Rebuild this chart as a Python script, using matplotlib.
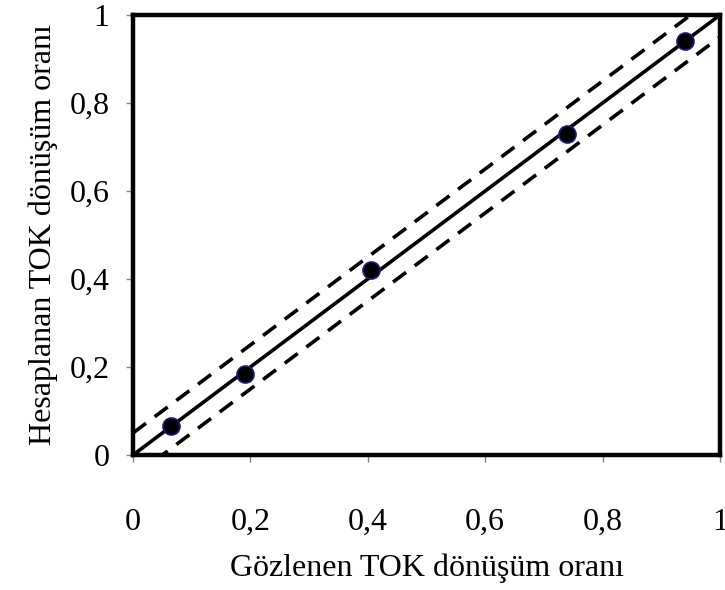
import matplotlib
matplotlib.use("Agg")
import matplotlib.pyplot as plt
import numpy as np

# Observed vs. calculated TOC conversion
observed = [0.065, 0.19, 0.405, 0.74, 0.94]
calculated = [0.065, 0.185, 0.42, 0.73, 0.94]
band = 0.05  # +/- deviation band
ticks = [0, 0.2, 0.4, 0.6, 0.8, 1]
tick_labels = ["0", "0,2", "0,4", "0,6", "0,8", "1"]

plt.rcParams['font.family'] = ['Liberation Serif', 'DejaVu Serif']

fig = plt.figure(figsize=(7.25, 5.9), dpi=100)
ax = fig.add_axes([133 / 725, 1 - 455 / 590, (720 - 133) / 725, (455 - 15) / 590])

line = np.array([0.0, 1.0])
ax.plot(line, line, color='black', lw=2.6, zorder=2)
ax.plot(line, line + band, color='black', lw=2.6, dashes=(4.5, 3), zorder=2)
ax.plot(line, line - band, color='black', lw=2.6, dashes=(4.5, 3), zorder=2)
ax.scatter(observed, calculated, s=150, c='black', edgecolors='#1a1a80',
           linewidths=1.2, zorder=3, clip_on=False)

ax.set_xlim(0, 1)
ax.set_ylim(0, 1)
ax.set_xticks(ticks)
ax.set_yticks(ticks)
ax.set_xticklabels(tick_labels)
ax.set_yticklabels(tick_labels)
ax.tick_params(direction='out', length=5, width=1, color='#808080',
               labelsize=23)
ax.tick_params(axis='x', pad=33)
ax.tick_params(axis='y', pad=12)
for s in ax.spines.values():
    s.set_linewidth(3.2)
    s.set_color('black')

ax.set_xlabel("Gözlenen TOK dönüşüm oranı", fontsize=23, labelpad=12)
ax.set_ylabel("Hesaplanan TOK dönüşüm oranı", fontsize=23, labelpad=8)

fig.savefig("out.png", dpi=100)
